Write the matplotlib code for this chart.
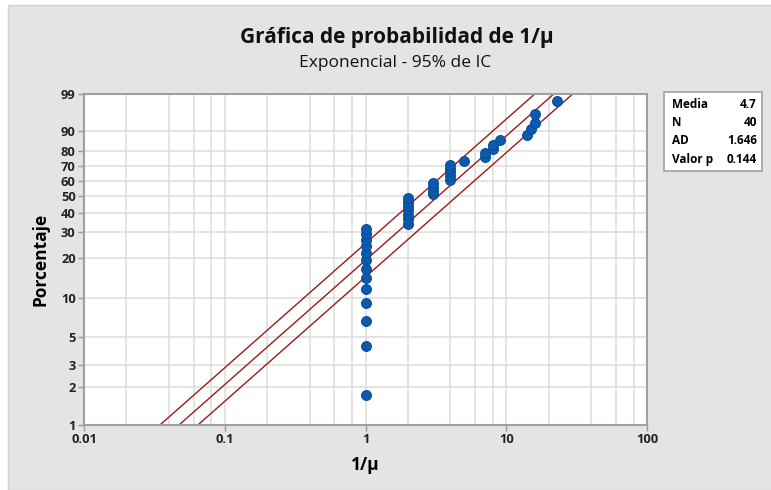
import matplotlib
matplotlib.use('Agg')
import matplotlib.pyplot as plt
from matplotlib.patches import Rectangle
import numpy as np

# Data: observed values of 1/mu (n = 40), sorted
values = [1] * 13 + [2] * 7 + [3] * 4 + [4] * 5 + [5] + [7, 7, 8, 8, 9, 14, 15, 16, 16, 23]
theta = 4.7          # fitted exponential mean
ci_factors = [0.733, 1.363]   # 95% CI scale factors on the fitted line

y_ticks = [1, 2, 3, 5, 10, 20, 30, 40, 50, 60, 70, 80, 90, 99]
x_ticks = [0.01, 0.1, 1, 10, 100]
x_ticklabels = ['0.01', '0.1', '1', '10', '100']
stats_labels = ['Media', 'N', 'AD', 'Valor p']
stats_values = ['4.7', '40', '1.646', '0.144']

plt.rcParams['font.family'] = ['Open Sans', 'DejaVu Sans']


def wscale(p):
    # exponential probability scale (log of cumulative hazard)
    return np.log(-np.log(1 - np.asarray(p, dtype=float)))


n = len(values)
ranks = np.arange(1, n + 1)
pp = (ranks - 0.3) / (n + 0.4)

fig = plt.figure(figsize=(7.71, 4.90), dpi=100)
fig.patch.set_facecolor('white')
fig.patches.append(Rectangle((8 / 771, 0), 1, 1 - 5 / 490, transform=fig.transFigure,
                             facecolor='#E4E4E4', edgecolor='#D2D2D2', lw=1, zorder=-10))

ax = fig.add_axes([84 / 771, 1 - 425 / 490, (647.3 - 84) / 771, (425 - 94) / 490])
ax.set_facecolor('white')
ax.set_xscale('log')
ax.set_xlim(0.01, 100)
ax.set_ylim(wscale(0.01), wscale(0.99))

# grid
for dec in [0.01, 0.1, 1, 10]:
    for m in [1, 2, 4, 6, 8]:
        ax.axvline(dec * m, color='#DCDCDC', lw=1.1, zorder=0)
for t in y_ticks:
    ax.axhline(wscale(t / 100), color='#DCDCDC', lw=1.1, zorder=0)

# fitted line and confidence bounds
pl = np.linspace(0.005, 0.995, 400)
line_color = '#A01818'
ax.plot(theta * -np.log(1 - pl), wscale(pl), color=line_color, lw=1.0, zorder=2)
for f in ci_factors:
    ax.plot(theta * f * -np.log(1 - pl), wscale(pl), color=line_color, lw=1.0, zorder=2)

# points
ax.scatter(values, wscale(pp), s=50, color='#0A5BB0', edgecolor='#0B4E96', lw=0.8, zorder=3)

ax.set_yticks(wscale(np.array(y_ticks) / 100))
ax.set_yticklabels([str(t) for t in y_ticks], fontsize=9.3, fontweight='bold', color='#222222')
ax.set_xticks(x_ticks)
ax.set_xticklabels(x_ticklabels, fontsize=9.3, fontweight='bold', color='#222222')
ax.minorticks_off()
ax.tick_params(length=4, width=1, color='#9A9A9A', pad=2)
for sp in ax.spines.values():
    sp.set_color('#A0A0A0')
    sp.set_linewidth(1.5)

ax.set_xlabel('1/μ', fontsize=12.5, fontweight='bold', labelpad=7)
ax.set_ylabel('Porcentaje', fontsize=12.5, fontweight='bold', labelpad=8)

fig.text(397 / 771, 1 - 38 / 490, 'Gráfica de probabilidad de 1/μ', ha='center', va='center',
         fontsize=15, fontweight='bold', color='#111111')
fig.text(395 / 771, 1 - 63 / 490, 'Exponencial - 95% de IC', ha='center', va='center',
         fontsize=12.5, color='#111111')

# statistics box
fig.patches.append(Rectangle((664 / 771, 1 - 171 / 490), 98 / 771, 79 / 490, transform=fig.transFigure,
                             facecolor='white', edgecolor='#A0A0A0', lw=1.2, zorder=5))
for i, (lab, val) in enumerate(zip(stats_labels, stats_values)):
    yy = 1 - (104 + i * 18.5) / 490
    fig.text(672 / 771, yy, lab, ha='left', va='center', fontsize=8.5, fontweight='bold', zorder=6)
    fig.text(757 / 771, yy, val, ha='right', va='center', fontsize=8.5, fontweight='bold', zorder=6)

fig.savefig('out.png', dpi=100)
